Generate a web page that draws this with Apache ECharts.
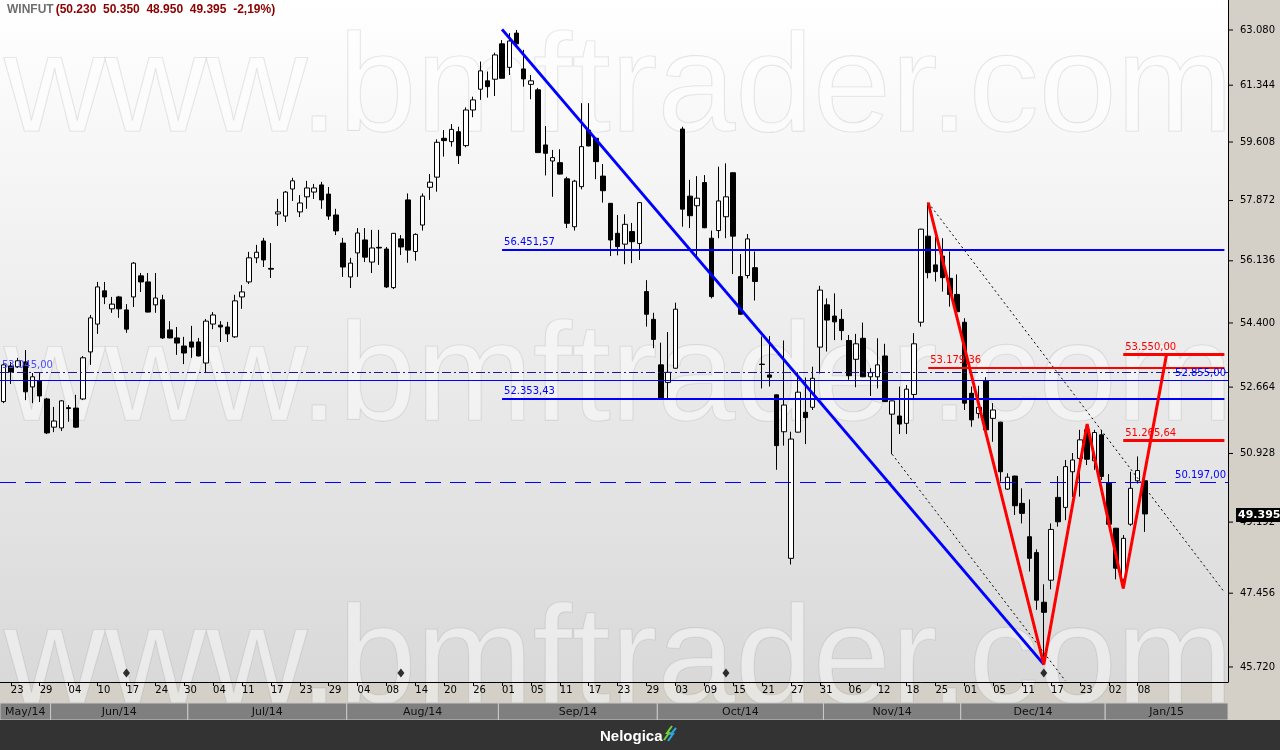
<!DOCTYPE html>
<html>
<head>
<meta charset="utf-8">
<title>WINFUT</title>
<script src="https://cdn.jsdelivr.net/npm/echarts@6.0.0/dist/echarts.min.js"></script>
<style>
html,body{margin:0;padding:0;background:#d4d0c8;overflow:hidden}
#chart{width:1280px;height:750px}
</style>
</head>
<body>
<div id="chart"></div>
<script>
// ---------------- DATA ----------------
const dates = [
'2014-05-22','2014-05-23','2014-05-26','2014-05-27','2014-05-28','2014-05-29','2014-05-30',
'2014-06-02','2014-06-03','2014-06-04','2014-06-05','2014-06-06','2014-06-09','2014-06-10','2014-06-11','2014-06-13','2014-06-16','2014-06-17','2014-06-18','2014-06-20','2014-06-23','2014-06-24','2014-06-25','2014-06-26','2014-06-27','2014-06-30',
'2014-07-01','2014-07-02','2014-07-03','2014-07-04','2014-07-07','2014-07-08','2014-07-10','2014-07-11','2014-07-14','2014-07-15','2014-07-16','2014-07-17','2014-07-18','2014-07-21','2014-07-22','2014-07-23','2014-07-24','2014-07-25','2014-07-28','2014-07-29','2014-07-30','2014-07-31',
'2014-08-01','2014-08-04','2014-08-05','2014-08-06','2014-08-07','2014-08-08','2014-08-11','2014-08-12','2014-08-13','2014-08-14','2014-08-15','2014-08-18','2014-08-19','2014-08-20','2014-08-21','2014-08-22','2014-08-25','2014-08-26','2014-08-27','2014-08-28','2014-08-29',
'2014-09-01','2014-09-02','2014-09-03','2014-09-04','2014-09-05','2014-09-08','2014-09-09','2014-09-10','2014-09-11','2014-09-12','2014-09-15','2014-09-16','2014-09-17','2014-09-18','2014-09-19','2014-09-22','2014-09-23','2014-09-24','2014-09-25','2014-09-26','2014-09-29','2014-09-30',
'2014-10-01','2014-10-02','2014-10-03','2014-10-06','2014-10-07','2014-10-08','2014-10-09','2014-10-10','2014-10-13','2014-10-14','2014-10-15','2014-10-16','2014-10-17','2014-10-20','2014-10-21','2014-10-22','2014-10-23','2014-10-24','2014-10-27','2014-10-28','2014-10-29','2014-10-30','2014-10-31',
'2014-11-03','2014-11-04','2014-11-05','2014-11-06','2014-11-07','2014-11-10','2014-11-11','2014-11-12','2014-11-13','2014-11-14','2014-11-17','2014-11-18','2014-11-19','2014-11-21','2014-11-24','2014-11-25','2014-11-26','2014-11-27','2014-11-28',
'2014-12-01','2014-12-02','2014-12-03','2014-12-04','2014-12-05','2014-12-08','2014-12-09','2014-12-10','2014-12-11','2014-12-12','2014-12-15','2014-12-16','2014-12-17','2014-12-18','2014-12-19','2014-12-22','2014-12-23','2014-12-26','2014-12-29','2014-12-30',
'2015-01-02','2015-01-05','2015-01-06','2015-01-07','2015-01-08','2015-01-09'
];
const opens = [
52.28,53.23,53.21,53.34,52.67,52.83,52.35,51.61,51.59,52.12,
52.11,52.35,53.61,54.37,55.29,54.79,55.12,54.76,55.12,55.71,
55.54,54.90,55.04,54.21,53.99,53.77,53.88,53.88,53.31,54.37,
54.34,54.29,54.02,55.12,55.54,56.22,56.70,55.92,57.48,57.42,
58.21,57.54,57.98,58.12,58.33,58.06,57.45,56.64,55.68,56.36,
56.73,56.10,56.52,56.47,55.38,56.76,57.89,56.40,57.16,58.26,
58.56,59.72,59.62,59.92,59.50,60.58,61.22,61.48,61.53,62.64,
61.90,62.98,61.85,61.37,61.20,59.52,59.04,58.99,58.51,57.11,
58.28,59.97,59.72,58.59,57.79,56.92,56.61,56.97,56.63,55.27,
54.50,53.26,52.79,53.17,60.00,58.00,57.72,58.40,56.78,57.00,
57.40,58.69,55.69,55.72,55.94,53.28,52.99,52.46,51.49,48.30,
51.48,52.00,52.13,53.74,54.90,54.59,54.50,53.92,53.41,53.98,
52.94,52.94,53.50,51.95,51.90,51.71,52.47,54.42,56.84,56.02,
56.27,55.64,55.19,54.42,52.50,51.97,52.84,51.84,51.74,50.02,
50.35,49.66,48.83,48.44,47.24,47.77,49.81,49.56,50.46,50.80,
51.54,50.74,51.41,50.18,49.04,47.79,49.14,50.23,50.23
];
const closes = [
53.26,53.07,53.37,52.54,52.94,52.43,51.46,51.77,52.30,52.10,
51.61,53.45,54.54,55.40,55.12,54.92,54.79,54.23,56.07,55.54,
54.70,55.09,53.99,53.99,53.85,53.58,53.74,53.50,54.45,54.62,
54.29,54.10,55.01,55.26,56.22,56.38,56.16,55.90,57.54,58.12,
58.45,57.80,58.24,58.24,57.89,57.42,56.99,55.96,56.07,56.93,
56.24,56.50,56.50,55.40,56.92,56.53,56.44,56.89,58.00,58.41,
59.60,59.65,59.99,59.20,60.58,60.89,61.79,61.30,62.29,61.56,
62.73,62.64,61.54,61.48,59.29,59.27,59.14,58.65,57.21,58.44,
59.47,59.49,59.02,58.16,56.73,56.54,57.18,56.68,57.81,54.64,
53.95,52.37,53.06,54.78,57.62,57.43,57.94,57.08,55.13,57.86,
57.98,56.84,54.64,56.76,55.55,53.27,52.93,51.13,52.19,51.30,
52.53,51.86,52.90,55.31,54.48,54.43,54.19,52.97,53.83,52.94,
53.05,53.26,52.28,52.30,51.69,52.61,53.83,57.04,55.80,55.83,
55.66,55.19,54.71,52.24,51.80,52.13,51.54,52.06,50.46,50.32,
49.60,49.41,48.30,47.29,47.00,49.01,49.20,50.59,50.76,51.28,
50.78,51.47,50.34,49.14,48.06,48.79,50.04,50.49,49.395
];
const lows = [
52.24,52.75,53.18,52.32,52.24,52.27,51.43,51.48,51.51,51.75,
51.59,52.32,53.26,54.10,54.92,54.68,54.54,54.13,54.84,55.26,
54.69,54.68,53.96,53.98,53.53,53.28,53.45,53.49,53.04,54.23,
53.88,53.88,53.99,54.79,55.48,56.07,55.96,55.65,57.13,57.25,
57.86,57.39,57.63,57.92,57.63,57.31,56.87,55.68,55.37,55.68,
56.10,55.79,56.02,55.37,55.34,56.30,56.08,56.14,57.00,57.89,
58.13,59.17,59.47,58.95,59.45,60.36,60.89,60.96,61.01,61.55,
61.66,62.60,61.30,60.91,59.28,58.61,57.98,58.64,57.07,57.00,
58.20,59.48,58.50,57.81,56.27,56.29,56.04,56.07,56.16,54.30,
53.71,52.36,52.37,53.16,57.11,57.07,56.25,57.07,55.08,56.78,
56.78,55.76,54.63,55.64,55.02,52.63,52.68,50.51,51.13,48.15,
51.47,51.17,52.06,53.03,53.62,53.93,53.93,52.86,52.66,52.93,
52.43,52.63,52.27,50.91,51.43,51.43,52.37,54.30,55.64,55.55,
55.27,54.85,54.70,52.06,51.62,51.84,51.53,51.23,50.21,50.00,
49.37,49.16,47.98,47.06,45.78,47.55,49.08,49.24,49.82,49.83,
50.63,50.51,50.25,49.10,47.79,47.57,49.10,50.16,48.95
];
const highs = [
53.34,53.34,53.45,53.66,53.04,53.04,52.38,52.14,52.32,52.19,
52.46,53.50,54.62,55.54,55.54,55.12,55.15,54.92,56.10,55.79,
55.79,55.79,55.18,54.45,54.29,54.02,54.32,53.99,54.51,54.70,
54.45,54.43,55.18,55.45,56.39,56.59,56.79,56.64,57.92,58.15,
58.54,58.03,58.45,58.36,58.42,58.27,57.63,56.79,56.22,57.07,
57.07,57.02,57.02,56.53,56.93,56.87,58.08,56.92,58.08,58.65,
59.69,59.97,60.15,60.07,60.66,60.99,62.08,61.77,62.36,62.76,
62.98,63.08,62.45,61.66,61.26,60.09,59.37,59.39,58.57,58.48,
60.79,60.79,59.73,58.95,57.80,57.45,57.47,57.22,57.82,55.59,
54.68,53.86,54.15,54.96,60.07,58.48,58.59,58.62,57.00,58.87,
58.97,58.70,56.33,56.90,56.40,54.03,54.04,52.47,53.92,51.49,
53.06,52.92,53.21,55.43,55.08,55.22,54.78,54.07,54.10,54.41,
53.17,53.98,53.83,52.31,52.68,52.72,54.12,57.05,57.81,56.82,
56.78,56.40,55.75,54.53,52.68,52.70,52.93,52.24,51.75,50.42,
50.36,50.04,49.76,48.52,47.67,49.16,50.35,50.76,50.94,51.54,
51.69,51.54,51.54,50.40,49.05,48.87,50.46,50.85,50.35
];
const futureSlots = 11;                       // empty space on the right of the last bar
const yTicks = [63.08, 61.344, 59.608, 57.872, 56.136, 54.4, 52.664, 50.928, 49.192, 47.456, 45.72];
const yRange = [45.374, 64.043];
const hLevels = [56.45157, 52.35343, 53.045, 52.855, 50.197, 53.17936, 53.55, 51.26564];
const hLabels = ['56.451,57', '52.353,43', '53.045,00', '52.855,00', '50.197,00', '53.179,36', '53.550,00', '51.265,64'];
const hStart  = [69, 69, null, null, null, 128, 155, 155];
const blueTrend = [[69, 63.10], [144, 45.78]];
const redZigzag = [[128, 57.81], [144, 45.78], [150, 51.69], [155, 47.57], [161, 53.55]];
const dottedUpper = [[128, 57.81], [169, 47.48]];
const dottedLower = [[123, 50.91], [147, 45.40]];
const expiryIdx = [17, 55, 100, 144];
const expiryLevel = 45.58;
const symbolName = 'WINFUT';
const dayChange = '-2,19%';
const monthAbbr = ['Jan','Feb','Mar','Apr','May','Jun','Jul','Aug','Sep','Oct','Nov','Dec'];
const watermark = 'www.bmftrader.com';
const brand = 'Nelogica';

// ---------------- CHART ----------------
const axisDates = dates.concat(new Array(futureSlots).fill(''));
const candles = dates.map((d, i) => [opens[i], closes[i], lows[i], highs[i]]);
const last = dates.length - 1;
const showDay = (idx) => idx % 4 === 1 && idx < dates.length;
const f3 = (v) => v.toFixed(3);
const FONT = 'DejaVu Sans';

const BLUE = '#0000ff', RED = '#ff0000';
const hStyles = [
  {color: BLUE, width: 2, type: 'solid', pos: 'insideStartTop', lc: BLUE},
  {color: BLUE, width: 2, type: 'solid', pos: 'insideStartTop', lc: BLUE},
  {color: '#1a1aa0', width: 1, type: [9, 3, 2, 3], pos: 'insideStartTop', lc: '#4b4bff'},
  {color: BLUE, width: 1, type: 'solid', pos: 'insideEndTop', lc: BLUE},
  {color: BLUE, width: 1, type: [16, 9], pos: 'insideEndTop', lc: BLUE},
  {color: RED, width: 2, type: 'solid', pos: 'insideStartTop', lc: RED},
  {color: RED, width: 3, type: 'solid', pos: 'insideStartTop', lc: RED},
  {color: RED, width: 3, type: 'solid', pos: 'insideStartTop', lc: RED}
];

const markData = hLevels.map((v, k) => {
  const st = hStyles[k];
  const common = {
    lineStyle: {color: st.color, width: st.width, type: st.type},
    label: {show: true, position: st.pos, formatter: hLabels[k], color: st.lc,
            fontFamily: FONT, fontSize: 10, distance: 2}
  };
  if (hStart[k] === null) return Object.assign({yAxis: v}, common);
  return [Object.assign({coord: [hStart[k], v]}, common), {coord: [axisDates.length - 1, v]}];
});

const option = {
  animation: false,
  backgroundColor: '#d4d0c8',
  textStyle: {fontFamily: FONT},
  title: {
    left: 7, top: 4, padding: 0,
    text: '{a|' + symbolName + '}{b|(' + [opens[last], highs[last], lows[last], closes[last]].map(f3).join('  ') + '  ' + dayChange + ')}',
    textStyle: {
      rich: {
        a: {color: '#6e6e6e', fontWeight: 'bold', fontSize: 12, fontFamily: 'Liberation Sans', padding: [0, 2, 0, 0]},
        b: {color: '#8b0000', fontWeight: 'bold', fontSize: 12, fontFamily: 'Liberation Sans'}
      }
    }
  },
  grid: {left: 0, right: 52, top: 0, bottom: 68, containLabel: false, outerBoundsMode: 'none'},
  xAxis: {
    type: 'category', data: axisDates, boundaryGap: true,
    axisLine: {show: true, lineStyle: {color: '#000', width: 1}},
    axisTick: {show: true, alignWithLabel: true, interval: showDay, length: 4, lineStyle: {color: '#000'}},
    axisLabel: {interval: showDay, formatter: (v) => v ? v.slice(8) : '', align: 'left', margin: 3,
                color: '#000', fontFamily: FONT, fontSize: 10, hideOverlap: false},
    splitLine: {show: false}
  },
  yAxis: {
    type: 'log', position: 'right', min: yRange[0], max: yRange[1], logBase: 10,
    axisLine: {show: true, lineStyle: {color: '#000'}},
    axisTick: {show: false}, axisLabel: {show: false}, splitLine: {show: false}, minorTick: {show: false}
  },
  series: [
    {
      type: 'candlestick', data: candles, barWidth: 5, z: 2,
      itemStyle: {color: '#ffffff', color0: '#000000', borderColor: '#000000', borderColor0: '#000000', borderWidth: 1},
      markLine: {symbol: ['none', 'none'], silent: true, animation: false, data: markData}
    },
    {type: 'line', data: dottedUpper, symbol: 'none', z: 3, lineStyle: {color: '#000', width: 1, type: [2, 3]}},
    {type: 'line', data: dottedLower, symbol: 'none', z: 3, lineStyle: {color: '#000', width: 1, type: [2, 3]}},
    {type: 'line', data: blueTrend, symbol: 'none', z: 4, lineStyle: {color: BLUE, width: 3}},
    {type: 'line', data: redZigzag, symbol: 'none', z: 5, lineStyle: {color: RED, width: 3}},
    {type: 'scatter', data: expiryIdx.map(i => [i, expiryLevel]), symbol: 'diamond', symbolSize: [7, 9], z: 5,
     itemStyle: {color: '#000'}}
  ]
};

const chart = echarts.init(document.getElementById('chart'), null, {renderer: 'canvas'});
chart.setOption(option);

// ------------- decorations placed through the axes' own scales -------------
const px = (i) => chart.convertToPixel({xAxisIndex: 0}, i);
const py = (v) => chart.convertToPixel({yAxisIndex: 0}, v);
const half = (px(1) - px(0)) / 2;
const plotL = px(0) - half, plotR = px(axisDates.length - 1) + half;
const plotT = py(yRange[1]), plotB = py(yRange[0]);
const W = 1280, H = 750;

const g = [];
// plot background
g.push({type: 'rect', z: -100, silent: true, shape: {x: plotL, y: plotT, width: plotR - plotL, height: plotB - plotT},
  style: {fill: new echarts.graphic.LinearGradient(0, 0, 0, 1, [{offset: 0, color: '#ffffff'}, {offset: 1, color: '#d9d9d9'}])}});
// watermark
[plotT + 92, plotT + 381, plotT + 664].forEach(y => {
  g.push({type: 'text', z: -99, silent: true, x: plotL + 4, y: y,
    style: {text: watermark, font: '140px "Liberation Sans"', fill: 'rgba(255,255,255,0.45)',
            stroke: 'rgba(120,120,120,0.2)', lineWidth: 1.2, verticalAlign: 'middle', align: 'left'}});
});
// y tick marks & labels
yTicks.forEach(v => {
  const y = py(v);
  g.push({type: 'line', z: 10, silent: true, shape: {x1: plotR, y1: y, x2: plotR + 5, y2: y}, style: {stroke: '#000', lineWidth: 1}});
  g.push({type: 'text', z: 10, silent: true, x: plotR + 12, y: y,
    style: {text: f3(v), font: '10px "DejaVu Sans"', fill: '#000', verticalAlign: 'middle', align: 'left'}});
});
// last price tag
g.push({type: 'text', z: 12, silent: true, x: plotR + 8, y: py(closes[last]) + 1,
  style: {text: f3(closes[last]), font: 'bold 11px "DejaVu Sans"', fill: '#fff', backgroundColor: '#000',
          padding: [2, 2, 1, 2], verticalAlign: 'middle', align: 'left'}});
// month band
const groups = [];
dates.forEach((d, i) => {
  const key = d.slice(0, 7);
  if (!groups.length || groups[groups.length - 1].key !== key) groups.push({key, s: i, e: i});
  else groups[groups.length - 1].e = i;
});
const bandTop = plotB + 21, bandBot = plotB + 38;
groups.forEach((gr, k) => {
  const x1 = k === 0 ? plotL : px(gr.s) - half;
  const x2 = k === groups.length - 1 ? plotR : px(gr.e) + half;
  const lbl = monthAbbr[parseInt(gr.key.slice(5, 7), 10) - 1] + '/' + gr.key.slice(2, 4);
  g.push({type: 'rect', z: 10, silent: true, shape: {x: x1, y: bandTop, width: x2 - x1, height: bandBot - bandTop},
    style: {fill: '#7f7f7f', stroke: '#c9c9c9', lineWidth: 1}});
  g.push({type: 'text', z: 11, silent: true, x: (x1 + x2) / 2, y: (bandTop + bandBot) / 2 + 1,
    style: {text: lbl, font: '11px "DejaVu Sans"', fill: '#111', align: 'center', verticalAlign: 'middle'}});
});
// bottom brand strip
g.push({type: 'rect', z: 10, silent: true, shape: {x: 0, y: bandBot, width: W, height: H - bandBot}, style: {fill: '#333333'}});
g.push({type: 'text', z: 11, silent: true, x: W / 2 - 40, y: (bandBot + H) / 2 + 2,
  style: {text: brand, font: 'bold 15px "Liberation Sans"', fill: '#ffffff', align: 'left', verticalAlign: 'middle'}});
g.push({type: 'polyline', z: 11, silent: true, shape: {points: [[W/2+24, bandBot+20], [W/2+29, bandBot+13], [W/2+27, bandBot+13], [W/2+32, bandBot+6]]},
  style: {stroke: '#6fd13a', lineWidth: 2, fill: null}});
g.push({type: 'polyline', z: 11, silent: true, shape: {points: [[W/2+28, bandBot+21], [W/2+33, bandBot+14], [W/2+31, bandBot+14], [W/2+36, bandBot+8]]},
  style: {stroke: '#2aa7e0', lineWidth: 2, fill: null}});

chart.setOption({graphic: g});
</script>
</body>
</html>
